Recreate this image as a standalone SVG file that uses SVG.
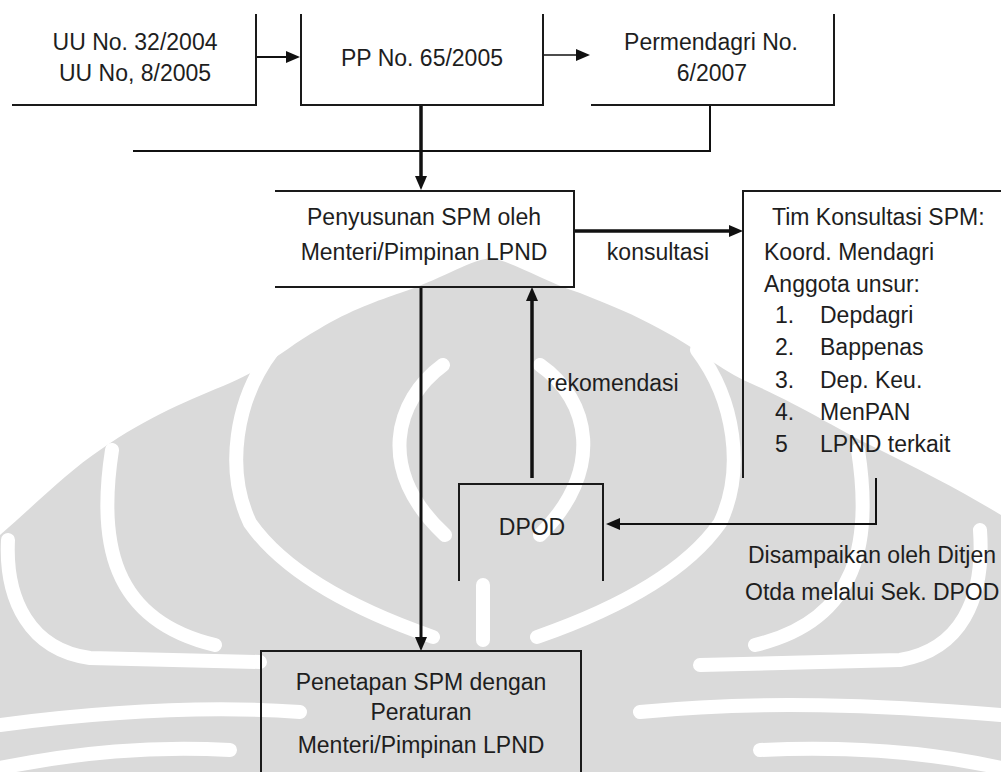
<svg xmlns="http://www.w3.org/2000/svg" width="1001" height="772" viewBox="0 0 1001 772">
<style>
.t{font-family:"Liberation Sans",Arial,sans-serif;font-size:23px;fill:#1e1e1e}
.m{text-anchor:middle}
.box{fill:none;stroke:#1a1a1a;stroke-width:2}
.c{fill:none;stroke:#111;stroke-width:2}
.thick{stroke-width:3.5}
.wm{fill:none;stroke:#fff;stroke-width:14;stroke-linecap:round}
</style>
<defs>
<marker id="ah" markerWidth="14" markerHeight="12" refX="6" refY="6" orient="auto" markerUnits="userSpaceOnUse"><path d="M0,0 L14,6 L0,12 Z" fill="#111"/></marker>
</defs>
<rect width="1001" height="772" fill="#fff"/>
<g id="watermark">
<path fill="#dadada" d="M0,535 C40,500 70,470 100,450 C150,415 190,400 230,383 C270,365 290,345 319,329 C350,310 380,300 400,293 C440,280 465,262 490,258 C515,262 540,280 580,293 C610,305 635,315 660,329 C700,350 720,370 750,383 C800,405 830,425 870,445 C920,470 960,490 1001,515 L1001,772 L0,772 Z"/>
<path class="wm" d="M443,365 C395,400 375,470 445,535"/>
<path class="wm" d="M540,365 C590,400 605,470 540,535"/>
<path class="wm" d="M273,350 C235,400 225,470 250,523 C290,580 370,615 433,637"/>
<path class="wm" d="M697,350 C735,400 745,470 720,523 C680,580 600,615 537,637"/>
<path class="wm" d="M112,450 C98,540 110,620 215,645"/>
<path class="wm" d="M858,450 C872,540 860,620 755,645"/>
<path class="wm" d="M8,540 C5,600 30,650 90,658 L260,662"/>
<path class="wm" d="M980,530 C985,600 960,650 900,660 L700,665"/>
<path class="wm" d="M483,585 L483,640"/>
<path class="wm" d="M0,725 C100,712 200,705 300,712"/>
<path class="wm" d="M640,712 C760,700 880,705 1001,715"/>
<path class="wm" d="M0,768 C80,752 150,746 230,750"/>
<path class="wm" d="M760,750 C850,746 930,752 1001,768"/>
</g>
<g id="connectors">
<path class="c" d="M256,57 H292" marker-end="url(#ah)"/>
<path class="c" d="M543,55 H582" stroke="#555" style="stroke-width:1.5" marker-end="url(#ah)"/>
<path class="c" d="M710,105 V151 H133"/>
<path class="c thick" d="M421,105 V182" marker-end="url(#ah)"/>
<path class="c thick" d="M574,231 H735" marker-end="url(#ah)"/>
<path class="c" style="stroke-width:3" d="M421,287 V643" marker-end="url(#ah)"/>
<path class="c thick" d="M532,478 V295" marker-end="url(#ah)"/>
<path class="c" d="M876,478 V524 H614" marker-end="url(#ah)"/>
</g>
<g id="n-uu">
<path class="box" d="M256,14 V105 H12"/>
<text class="t m" x="135" y="50">UU No. 32/2004</text>
<text class="t m" x="135" y="81">UU No, 8/2005</text>
</g>
<g id="n-pp">
<path class="box" d="M301,14 V105 H543 V14"/>
<text class="t m" x="422" y="66">PP No. 65/2005</text>
</g>
<g id="n-permendagri">
<path class="box" d="M591,105 H834 V14"/>
<text class="t m" x="711" y="50">Permendagri No.</text>
<text class="t m" x="712" y="81">6/2007</text>
</g>
<g id="n-penyusunan">
<path class="box" d="M275,191 H574 V287 H275"/>
<text class="t m" x="424" y="225">Penyusunan SPM oleh</text>
<text class="t m" x="424" y="260">Menteri/Pimpinan LPND</text>
</g>
<g id="n-tim">
<path class="box" d="M743,478 V191 H1001"/>
<text class="t" x="772" y="225">Tim Konsultasi SPM:</text>
<text class="t" x="764" y="260">Koord. Mendagri</text>
<text class="t" x="764" y="292">Anggota unsur:</text>
<text class="t" x="775" y="323">1.</text><text class="t" x="820" y="323">Depdagri</text>
<text class="t" x="775" y="355">2.</text><text class="t" x="820" y="355">Bappenas</text>
<text class="t" x="775" y="388">3.</text><text class="t" x="820" y="388">Dep. Keu.</text>
<text class="t" x="775" y="420">4.</text><text class="t" x="820" y="420">MenPAN</text>
<text class="t" x="775" y="452">5</text><text class="t" x="820" y="452">LPND terkait</text>
</g>
<g id="n-dpod">
<path class="box" d="M459,581 V484 H603 V581"/>
<text class="t m" x="532" y="535">DPOD</text>
</g>
<g id="n-penetapan">
<path class="box" d="M261,772 V651 H581 V772"/>
<text class="t m" x="421" y="690">Penetapan SPM dengan</text>
<text class="t m" x="421" y="720">Peraturan</text>
<text class="t m" x="421" y="753">Menteri/Pimpinan LPND</text>
</g>
<g id="labels">
<text class="t m" x="658" y="260">konsultasi</text>
<text class="t" x="547" y="391">rekomendasi</text>
<text class="t" x="748" y="563">Disampaikan oleh Ditjen</text>
<text class="t" x="745" y="600">Otda melalui Sek. DPOD</text>
</g>
</svg>
